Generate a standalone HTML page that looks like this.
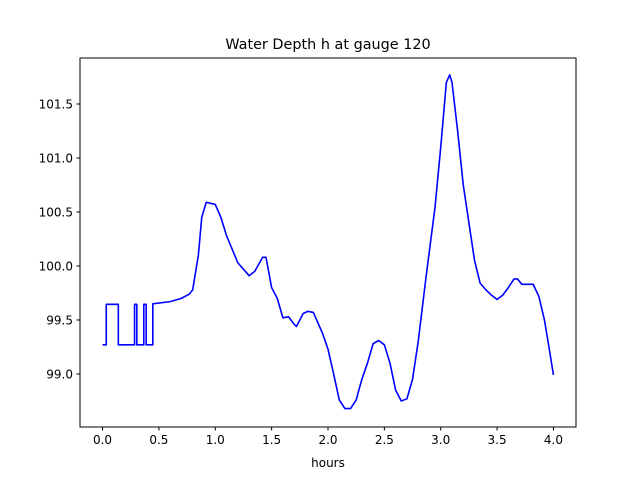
<!DOCTYPE html>
<html><head><meta charset="utf-8"><style>
body{margin:0;background:#fff;}
svg text{font-family:"DejaVu Sans","Liberation Sans",sans-serif;fill:#000;}
</style></head><body>
<svg id="chart" width="640" height="480" xmlns="http://www.w3.org/2000/svg">
<rect width="640" height="480" fill="#fff"/>
<text x="328" y="49" font-size="14.4" text-anchor="middle">Water Depth h at gauge 120</text>
<g id="plot"></g>
<rect x="80" y="58" width="496" height="369" fill="none" stroke="#000" stroke-width="1"/>
<text x="328" y="467" font-size="12" text-anchor="middle">hours</text>
</svg>
<script>
const xs = [0,0.033,0.033,0.14,0.14,0.284,0.284,0.304,0.304,0.366,0.366,0.387,0.387,0.446,0.446,0.6,0.7,0.77,0.8,0.85,0.88,0.92,1.0,1.05,1.1,1.2,1.3,1.35,1.42,1.45,1.5,1.55,1.6,1.65,1.7,1.72,1.78,1.82,1.87,1.95,2.0,2.05,2.1,2.15,2.2,2.25,2.3,2.35,2.4,2.45,2.5,2.55,2.6,2.65,2.7,2.75,2.8,2.87,2.95,3.0,3.05,3.08,3.1,3.15,3.2,3.25,3.3,3.35,3.4,3.45,3.5,3.55,3.6,3.65,3.68,3.72,3.78,3.82,3.87,3.92,3.96,4.0];
const ys = [99.27,99.27,99.645,99.645,99.27,99.27,99.645,99.645,99.27,99.27,99.645,99.645,99.27,99.27,99.65,99.67,99.70,99.74,99.78,100.1,100.45,100.59,100.57,100.45,100.28,100.03,99.91,99.95,100.08,100.08,99.8,99.7,99.52,99.53,99.46,99.44,99.56,99.58,99.57,99.38,99.23,99.0,98.76,98.68,98.68,98.76,98.95,99.1,99.28,99.31,99.27,99.1,98.85,98.75,98.77,98.95,99.3,99.9,100.55,101.1,101.7,101.77,101.7,101.25,100.75,100.4,100.05,99.84,99.78,99.73,99.69,99.73,99.8,99.88,99.88,99.83,99.83,99.83,99.72,99.5,99.25,98.99];
const xTicks = [0,0.5,1,1.5,2,2.5,3,3.5,4];
const xTickLabels = ["0.0","0.5","1.0","1.5","2.0","2.5","3.0","3.5","4.0"];
const yTicks = [99,99.5,100,100.5,101,101.5];
const yTickLabels = ["99.0","99.5","100.0","100.5","101.0","101.5"];
const NS="http://www.w3.org/2000/svg";
const L=80,R=576,T=58,B=427, xmin=-0.2,xmax=4.2, ymin=98.509,ymax=101.926;
const sx=v=>L+(v-xmin)/(xmax-xmin)*(R-L);
const sy=v=>B-(v-ymin)/(ymax-ymin)*(B-T);
const g=document.getElementById('plot');
function mk(t,a){const e=document.createElementNS(NS,t);for(const k in a)e.setAttribute(k,a[k]);g.appendChild(e);return e;}
xTicks.forEach((v,i)=>{
  const l=mk('line',{x1:sx(v),x2:sx(v),y1:B,y2:B+3.5,stroke:'#000'});
  
  
  const t=mk('text',{x:sx(v),y:B+17,'font-size':12,'text-anchor':'middle'});
  t.textContent=xTickLabels[i];
  
  
});
yTicks.forEach((v,i)=>{
  const l=mk('line',{x1:L-3.5,x2:L,y1:sy(v),y2:sy(v),stroke:'#000'});
  
  
  const t=mk('text',{x:L-7,y:sy(v)+4.5,'font-size':12,'text-anchor':'end'});
  t.textContent=yTickLabels[i];
  
  
});
const p=mk('polyline',{points:xs.map((x,i)=>sx(x)+','+sy(ys[i])).join(' '),fill:'none',stroke:'#0000ff','stroke-width':1.6,'stroke-linejoin':'round'});


</script>
</body></html>
